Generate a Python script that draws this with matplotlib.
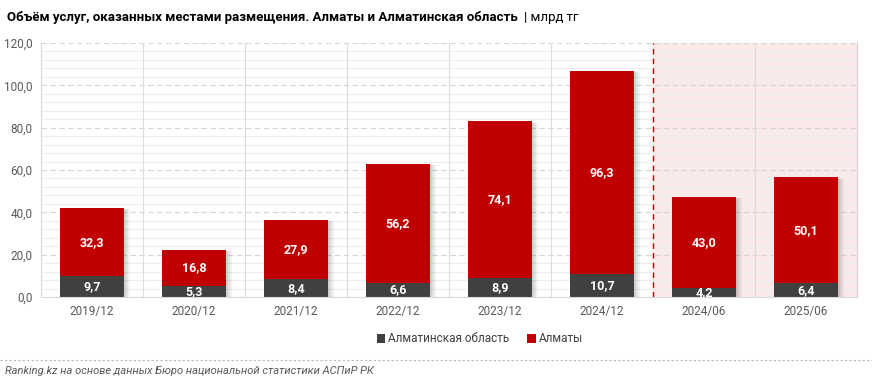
import matplotlib.pyplot as plt
from matplotlib.ticker import MultipleLocator, FuncFormatter
import numpy as np

plt.rcParams['font.family'] = ['Roboto', 'DejaVu Sans']

periods = ['2019/12', '2020/12', '2021/12', '2022/12', '2023/12', '2024/12', '2024/06', '2025/06']
oblast = [9.7, 5.3, 8.4, 6.6, 8.9, 10.7, 4.2, 6.4]
almaty = [32.3, 16.8, 27.9, 56.2, 74.1, 96.3, 43.0, 50.1]

dark = '#404040'
red = '#C00000'

fig = plt.figure(figsize=(8.72, 3.85), dpi=100)
ax = fig.add_axes([41 / 872, 1 - 297 / 385, (857 - 41) / 872, (297 - 43) / 385])

x = np.arange(len(periods))
w = 0.62
tot = np.array(oblast) + np.array(almaty)

# shaded half-year block
ax.axvspan(5.5, 7.5, color='#FAEAEA', zorder=0)
ax.axvline(5.5, color='#C00000', ls=(0, (4, 3)), lw=1, zorder=1)

# gridlines
for v in np.arange(4, 120, 4):
    if v % 20:
        ax.axhline(v, color='#EEEEEE', lw=0.8, zorder=0.5)
for v in range(20, 121, 20):
    ax.axhline(v, color='#D5D5D5', lw=0.8, ls=(0, (5, 3)), zorder=0.6)
for b in np.arange(0.5, 7, 1):
    if b != 5.5:
        ax.axvline(b, color='#DCDCDC', lw=0.8, zorder=0.6)

# soft shadows
for k, a in [(0.06, 0.05), (0.04, 0.06), (0.02, 0.08)]:
    ax.bar(x + k, tot, w, bottom=-0.6, color='black', alpha=a, zorder=1.5, lw=0)

ax.bar(x, oblast, w, color=dark, label='Алматинская область', zorder=2)
ax.bar(x, almaty, w, bottom=oblast, color=red, label='Алматы', zorder=2)

for i in range(len(x)):
    ax.text(x[i], oblast[i] / 2, f'{oblast[i]:.1f}'.replace('.', ','), ha='center', va='center',
            color='white', fontsize=9, fontweight='bold', zorder=3)
    ax.text(x[i], oblast[i] + almaty[i] / 2, f'{almaty[i]:.1f}'.replace('.', ','), ha='center',
            va='center', color='white', fontsize=9, fontweight='bold', zorder=3)

ax.set_xlim(-0.5, 7.5)
ax.set_ylim(0, 120)
ax.yaxis.set_major_locator(MultipleLocator(20))
ax.yaxis.set_major_formatter(FuncFormatter(lambda v, p: f'{v:.1f}'.replace('.', ',')))
ax.set_xticks(x, periods)
ax.tick_params(length=0, labelsize=8.5, colors='#595959', pad=6)
ax.spines['top'].set_visible(False)
ax.spines['right'].set_color('#D9CFCF')
ax.spines['left'].set_color('#D9D9D9')
ax.spines['bottom'].set_color('#D9D9D9')

title = fig.text(7 / 872, 1 - 18 / 385,
                 'Объём услуг, оказанных местами размещения. Алматы и Алматинская область',
                 fontsize=9.5, fontweight='bold', va='center', color='black')
fig.canvas.draw()
bb = title.get_window_extent()
fig.text((bb.x1 + 6) / 872, 1 - 18 / 385, '| млрд тг', fontsize=9.5, va='center', color='black')

leg = fig.legend(loc='center', bbox_to_anchor=(480 / 872, 1 - 339 / 385), ncol=2, frameon=False,
                 fontsize=8.5, handlelength=0.7, handleheight=0.7, handletextpad=0.3, columnspacing=1.5)
for t in leg.get_texts():
    t.set_color('#404040')

fig.add_artist(plt.Line2D([0, 1], [1 - 360 / 385] * 2, transform=fig.transFigure, color='#BBBBBB',
                          lw=0.8, ls=(0, (2, 2))))
fig.text(5 / 872, 1 - 371 / 385, 'Ranking.kz на основе данных Бюро национальной статистики АСПиР РК',
         fontsize=8, style='italic', color='#595959', va='center')

fig.savefig('out.png', dpi=100)
